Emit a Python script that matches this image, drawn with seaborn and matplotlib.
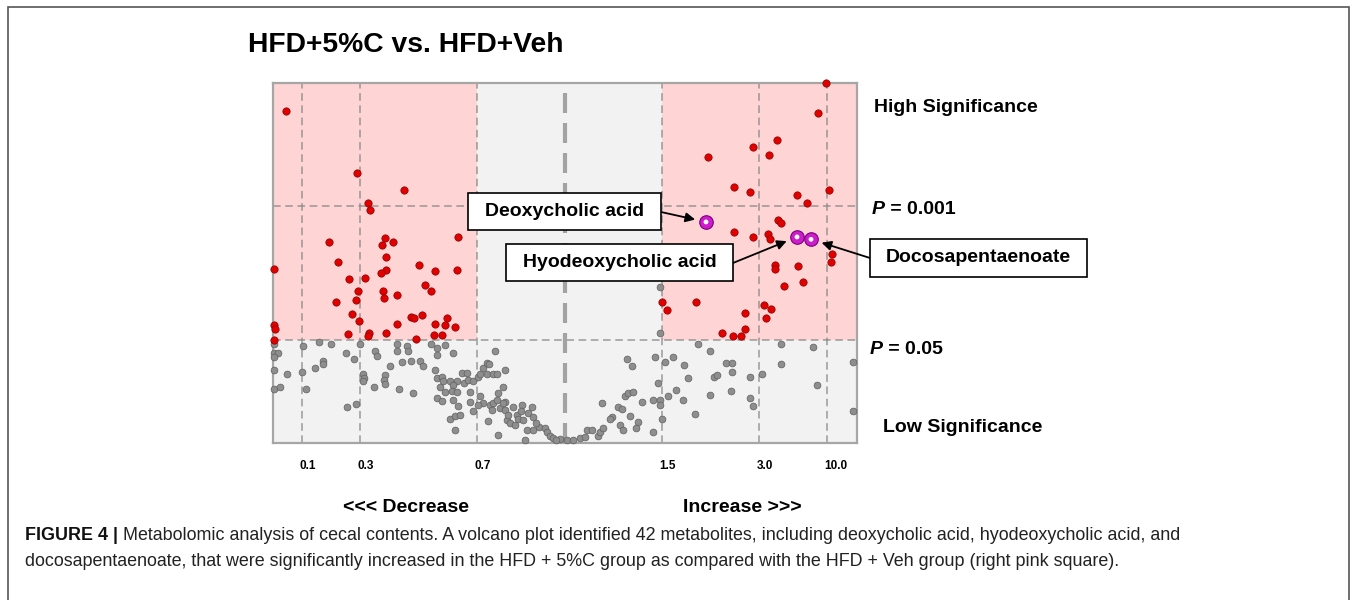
import numpy as np
import pandas as pd
import matplotlib
matplotlib.use("Agg")
import matplotlib.pyplot as plt
import matplotlib.transforms as mtransforms
import seaborn as sns
from matplotlib.patches import Rectangle

sns.set_theme(style="white")
plt.rcParams['font.family'] = ['Liberation Sans', 'DejaVu Sans']
plt.rcParams['text.color'] = 'black'
plt.rcParams['xtick.color'] = 'black'

# ---------------- data ----------------
# x: scaled fold-change score (0 = no change), y: -log10(P)
tick_labels = ["0.1", "0.3", "0.7", "1.5", "3.0", "10.0"]
tick_scores = [-2.633, -2.05, -0.88, 0.97, 1.943, 2.62]
fc_low_score, fc_high_score = -0.88, 0.97      # fold change 0.7 / 1.5
p05, p001 = -np.log10(0.05), -np.log10(0.001)

left_red_x = [-2.79, -2.08, -1.61, -1.97, -1.95, -2.36, -1.80, -1.83, -1.72, -1.07,
              -1.79, -2.27, -2.91, -1.79, -1.84, -1.46, -1.30, -1.08, -2.16, -2.00,
              -1.40, -1.34, -2.07, -1.82, -2.09, -1.81, -1.68, -2.29, -2.13, -2.06,
              -1.68, -1.54, -1.51, -1.43, -1.30, -1.20, -1.18, -1.10, -2.91, -2.90,
              -2.91, -2.17, -1.96, -1.97, -1.79, -1.49, -1.31, -1.23]
left_red_y = [4.21, 3.42, 3.21, 3.04, 2.95, 2.54, 2.60, 2.51, 2.55, 2.61,
              2.35, 2.29, 2.21, 2.19, 2.15, 2.26, 2.18, 2.19, 2.08, 2.09,
              2.00, 1.93, 1.93, 1.93, 1.81, 1.84, 1.87, 1.78, 1.63, 1.54,
              1.51, 1.60, 1.58, 1.62, 1.51, 1.50, 1.58, 1.47, 1.50, 1.44,
              1.31, 1.38, 1.39, 1.35, 1.39, 1.32, 1.37, 1.37]

right_red_x = [2.61, 2.53, 2.12, 1.88, 2.04, 1.43, 1.69, 1.85, 2.64, 2.32,
               2.42, 2.13, 2.16, 1.69, 1.88, 2.03, 2.05, 2.67, 2.66, 2.10,
               2.10, 2.33, 2.38, 2.19, 0.97, 1.02, 1.31, 1.99, 2.06, 1.80,
               2.01, 1.80, 1.57, 1.68, 1.76]
right_red_y = [4.56, 4.18, 3.84, 3.75, 3.65, 3.62, 3.24, 3.18, 3.21, 3.14,
               3.04, 2.83, 2.79, 2.67, 2.61, 2.65, 2.59, 2.39, 2.29, 2.26,
               2.21, 2.24, 2.04, 1.99, 1.79, 1.69, 1.79, 1.75, 1.70, 1.65,
               1.58, 1.44, 1.39, 1.36, 1.36]

highlight_names = ["Deoxycholic acid", "Hyodeoxycholic acid", "Docosapentaenoate"]
highlight_x = [1.41, 2.32, 2.46]
highlight_y = [2.80, 2.61, 2.58]

gray_x = [-2.91, -2.91, -2.87, -2.91, -2.91, -2.78, -2.91, -2.85, -2.63, -2.62,
          -2.46, -2.34, -2.59, -2.50, -2.42, -2.42, -2.19, -2.11, -2.05, -2.18,
          -2.09, -2.02, -2.01, -2.02, -1.90, -1.88, -1.91, -1.80, -1.81, -1.80,
          -1.75, -1.68, -1.68, -1.58, -1.57, -1.63, -1.54, -1.45, -1.42, -1.66,
          -1.52, -1.34, -1.28, -1.20, -1.28, -1.12, -1.30, -1.28, -1.23, -1.22,
          -1.15, -1.08, -1.12, -1.25, -1.20, -1.13, -1.08, -1.28, -1.23, -1.12,
          -1.07, -1.15, -1.10, -1.05, -1.10, -1.03, -0.98, -1.01, -0.97, -0.92,
          -0.95, -0.87, -0.85, -0.82, -0.78, -0.76, -0.78, -0.72, -0.70, -0.60,
          -0.62, -0.67, -0.85, -0.82, -0.87, -0.75, -0.72, -0.68, -0.95, -0.92,
          -0.77, -0.73, -0.65, -0.60, -0.60, -0.52, -0.43, -0.33, -0.48, -0.47,
          -0.42, -0.37, -0.32, -0.58, -0.55, -0.50, -0.38, -0.32, -0.26, -0.20,
          -0.18, -0.15, -0.12, -0.05, 0.02, -0.67, -0.40, -0.09, -0.68, -0.62,
          -0.57, -0.44, -0.29,
          0.08, 0.15, 0.20, 0.22, 0.27, 0.33, 0.35, 0.38, 0.37, 0.47,
          0.45, 0.53, 0.57, 0.55, 0.58, 0.60, 0.63, 0.68, 0.62, 0.67,
          0.65, 0.73, 0.77, 0.71, 0.88, 0.88, 0.90, 0.93, 0.95, 0.95,
          0.97, 0.95, 0.95, 1.00, 1.03, 1.08, 1.11, 1.18, 1.19, 1.23,
          1.30, 1.33, 1.45, 1.45, 1.49, 1.52, 1.61, 1.67, 1.67, 1.66,
          1.85, 1.85, 1.88, 1.97, 2.16, 2.16, 2.48, 2.52, 2.88, 2.88]
gray_y = [1.26, 1.14, 1.14, 1.09, 0.93, 0.87, 0.68, 0.71, 0.90, 1.23,
          1.28, 1.25, 0.68, 0.95, 1.04, 1.00, 1.14, 1.06, 1.26, 0.46,
          0.49, 0.88, 0.82, 0.78, 1.16, 1.10, 0.71, 0.86, 0.80, 0.75,
          0.97, 1.26, 1.17, 1.23, 1.17, 1.02, 1.04, 1.04, 0.98, 0.68,
          0.63, 1.26, 1.20, 1.24, 1.12, 1.14, 0.92, 0.82, 0.84, 0.79,
          0.79, 0.78, 0.74, 0.71, 0.64, 0.66, 0.65, 0.57, 0.53, 0.54,
          0.47, 0.31, 0.34, 0.35, 0.16, 0.89, 0.89, 0.76, 0.80, 0.78,
          0.64, 0.84, 0.88, 0.95, 1.01, 1.00, 0.88, 0.88, 1.16, 0.93,
          0.71, 0.63, 0.59, 0.51, 0.48, 0.48, 0.51, 0.54, 0.52, 0.40,
          0.28, 0.42, 0.44, 0.52, 0.42, 0.45, 0.48, 0.46, 0.35, 0.30,
          0.29, 0.38, 0.33, 0.29, 0.25, 0.23, 0.16, 0.16, 0.20, 0.19,
          0.14, 0.09, 0.06, 0.05, 0.04, 0.10, 0.04, 0.04, 0.87, 0.51,
          0.36, 0.40, 0.25,
          0.04, 0.06, 0.07, 0.16, 0.17, 0.09, 0.14, 0.19, 0.51, 0.33,
          0.31, 0.45, 0.43, 0.23, 0.16, 0.60, 0.63, 0.64, 1.06, 0.97,
          0.34, 0.27, 0.52, 0.19, 0.14, 0.54, 1.09, 0.76, 0.54, 0.48,
          0.31, 1.39, 1.98, 1.03, 0.59, 1.09, 0.67, 0.54, 0.99, 0.82,
          0.37, 1.26, 1.16, 0.61, 0.84, 0.86, 1.01, 1.01, 0.90, 0.66,
          0.83, 0.57, 0.47, 0.87, 1.26, 1.00, 1.22, 0.74, 1.02, 0.41]

gray_df = pd.DataFrame({"x": gray_x, "y": gray_y})
red_df = pd.DataFrame({"x": left_red_x + right_red_x, "y": left_red_y + right_red_y})
hl_df = pd.DataFrame({"x": highlight_x, "y": highlight_y, "name": highlight_names})

# ---------------- figure ----------------
W, H = 1357, 600
fig = plt.figure(figsize=(W / 100, H / 100), dpi=100)
fig.patch.set_facecolor("white")


def fx(px):
    return px / W


def fy(py):
    return 1 - py / H


ax = fig.add_axes([fx(273), fy(443), 584 / W, 360 / H])
ax.set_facecolor("#f2f2f2")
ax.set_xlim(-2.92, 2.92)
ax.set_ylim(0, 4.56)

pink = "#ffd4d4"
ax.add_patch(Rectangle((-2.92, p05), fc_low_score + 2.92, 4.56 - p05, fc=pink, ec="none", zorder=0))
ax.add_patch(Rectangle((fc_high_score, p05), 2.92 - fc_high_score, 4.56 - p05, fc=pink, ec="none", zorder=0))

grid_kw = dict(color="#8a8a8a", lw=1.1, ls=(0, (5, 3)), alpha=0.85, zorder=1)
for t in tick_scores:
    ax.axvline(t, **grid_kw)
for yv in (p05, p001):
    ax.axhline(yv, **grid_kw)
ax.axvline(0, color="#a3a3a3", lw=3, ls=(0, (4.8, 2.4)), zorder=1)

for s in ax.spines.values():
    s.set_color("#a6a6a6")
    s.set_linewidth(1.6)

sns.scatterplot(data=gray_df, x="x", y="y", ax=ax, color="#8e8e8e", edgecolor="#5e5e5e",
                linewidth=0.5, s=24, zorder=3, clip_on=False, legend=False)
sns.scatterplot(data=red_df, x="x", y="y", ax=ax, color="#e00000", edgecolor="#8a0000",
                linewidth=0.5, s=28, zorder=4, clip_on=False, legend=False)
sns.scatterplot(data=hl_df, x="x", y="y", ax=ax, color="#cc1ccc", edgecolor="#7a007a",
                linewidth=0.8, s=95, zorder=5, clip_on=False, legend=False)
sns.scatterplot(data=hl_df, x="x", y="y", ax=ax, color="white", edgecolor="none",
                s=12, zorder=6, clip_on=False, legend=False)

ax.set_xticks(tick_scores)
ax.set_xticklabels(tick_labels, fontsize=8.5, fontweight="bold", ha="left", color="black")
ax.tick_params(axis="x", length=0, pad=12)
ax.set_yticks([])
ax.set_xlabel("")
ax.set_ylabel("")
offset = mtransforms.ScaledTranslation(-2.5 / 100, 0, fig.dpi_scale_trans)
for lab in ax.get_xticklabels():
    lab.set_transform(lab.get_transform() + offset)

# ---------------- texts ----------------
fig.text(fx(406), fy(45), "HFD+5%C vs. HFD+Veh", fontsize=20.3, fontweight="bold",
         ha="center", va="center")
fig.text(fx(874), fy(108), "High Significance", fontsize=14, fontweight="bold", va="center")
fig.text(fx(883), fy(428), "Low Significance", fontsize=14, fontweight="bold", va="center")
fig.text(fx(343), fy(507), "<<< Decrease", fontsize=14, fontweight="bold", va="center")
fig.text(fx(683), fy(507), "Increase >>>", fontsize=14, fontweight="bold", va="center")

renderer = fig.canvas.get_renderer()


def text_run(x_px, y_px, parts, size):
    x = x_px
    for s, kw in parts:
        t = fig.text(fx(x), fy(y_px), s, fontsize=size, va="center", ha="left", **kw)
        bb = t.get_window_extent(renderer=renderer)
        x += bb.width


text_run(872, 209, [("P", dict(fontweight="bold", style="italic")),
                    (" = 0.001", dict(fontweight="bold"))], 14)
text_run(870, 350, [("P", dict(fontweight="bold", style="italic")),
                    (" = 0.05", dict(fontweight="bold"))], 14)

# annotation boxes (pixel layout)
boxes = [(468, 661, 193, 230), (506, 733, 244, 281), (870, 1087, 239, 277)]
arrow_starts = [(661, 212), (733, 263), (870, 258)]
for name, (x0, x1, y0, y1), (sx, sy), hx, hy in zip(highlight_names, boxes, arrow_starts,
                                                    highlight_x, highlight_y):
    fig.add_artist(Rectangle((fx(x0), fy(y1)), (x1 - x0) / W, (y1 - y0) / H,
                             transform=fig.transFigure, fc="white", ec="black", lw=1.2, zorder=7))
    fig.text(fx((x0 + x1) / 2), fy((y0 + y1) / 2), name, fontsize=14, fontweight="bold",
             ha="center", va="center", zorder=8)
    ax.annotate("", xy=(hx, hy), xycoords="data", xytext=(fx(sx), fy(sy)),
                textcoords="figure fraction", annotation_clip=False,
                arrowprops=dict(arrowstyle="-|>", color="black", lw=1.3, shrinkA=0,
                                shrinkB=8, mutation_scale=14), zorder=9)

# caption
text_run(25, 535, [("FIGURE 4 | ", dict(fontweight="bold", color="#111111")),
                   ("Metabolomic analysis of cecal contents. A volcano plot identified 42 metabolites, "
                    "including deoxycholic acid, hyodeoxycholic acid, and", dict(color="#222222"))], 12.9)
fig.text(fx(25), fy(562), "docosapentaenoate, that were significantly increased in the HFD + 5%C group "
         "as compared with the HFD + Veh group (right pink square).", fontsize=12.9, va="center",
         color="#222222")

# outer frame
fig.add_artist(Rectangle((fx(8), -0.01), (1349 - 8) / W, fy(7) + 0.01, transform=fig.transFigure,
                         fill=False, ec="#555555", lw=1.2, zorder=10))

fig.savefig("out.png", dpi=100)
